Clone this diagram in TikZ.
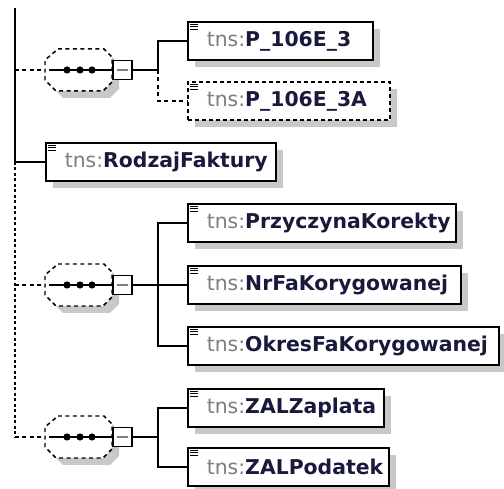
\documentclass[tikz,border=0pt]{standalone}
\usepackage{fontspec}
\setmainfont{DejaVu Sans}
\usetikzlibrary{positioning,shadows,calc}
\definecolor{tnsgray}{RGB}{125,125,132}
\definecolor{elname}{RGB}{25,25,60}
\definecolor{shadowgray}{RGB}{200,200,200}
\newcommand{\tns}[1]{\textcolor{tnsgray}{tns:}\textcolor{elname}{\bfseries #1}}

\tikzset{
  seq/.pic={
    % shadow and dashed outline
    \fill[shadowgray] (-13,-14) -- (33,-14) -- (41,-6) -- (41,19) -- (32,28) -- (-15,28) -- (-26,17) -- (-26,-3) -- cycle;
    \draw[optline, fill=white] (-20,-21) -- (26,-21) -- (34,-13) -- (34,12) -- (25,21) -- (-22,21) -- (-33,10) -- (-33,-10) -- cycle;
    \draw[line width=1pt] (-29,0) -- (36,0);
    \foreach \d in {-11,2,14} \fill (\d,0) circle (0.072cm);
    \node[minusbox] (-box) at (44.5,0) {};
    \draw[gray, line width=1pt] (39,0) -- (50,0);
    \coordinate (-in) at (-33,0);
  }
}

\begin{document}
\begin{tikzpicture}[x=0.02cm, y=-0.02cm, line width=0.85pt,
  elem/.style={draw, fill=white, line width=0.95pt, minimum height=0.76cm,
    inner xsep=0pt, anchor=west, font=\fontsize{11.6}{14}\selectfont,
    text width=#1, align=left,
    execute at begin node=\hspace*{0.38cm},
    drop shadow={shadow xshift=0.14cm, shadow yshift=-0.14cm, fill=shadowgray, opacity=1}},
  optelem/.style={elem=#1, dash pattern=on 0.08cm off 0.06cm},
  optline/.style={dash pattern=on 0.08cm off 0.07cm},
  trunkdot/.style={dash pattern=on 0.06cm off 0.05cm},
  minusbox/.style={draw, fill=white, line width=0.9pt, minimum size=0.38cm, inner sep=0pt}
]
\useasboundingbox (0,0) rectangle (504,489);

% compositors
\pic (s1) at (78,70) {seq};
\pic (s2) at (78,285) {seq};
\pic (s3) at (78,437) {seq};

% elements
\node[elem=3.7cm] (p106) at (187,41) {\tns{P\_106E\_3}};
\node[optelem=4.04cm] (p106a) at (187,101) {\tns{P\_106E\_3A}};
\node[elem=4.6cm] (rodzaj) at (45,162) {\tns{RodzajFaktury}};
\node[elem=5.36cm] (przyczyna) at (187,223) {\tns{PrzyczynaKorekty}};
\node[elem=5.46cm] (nrfa) at (187,285) {\tns{NrFaKorygowanej}};
\node[elem=6.22cm] (okres) at (187,346) {\tns{OkresFaKorygowanej}};
\node[elem=3.92cm] (zalzap) at (187,408) {\tns{ZALZaplata}};
\node[elem=4.02cm] (zalpod) at (187,467) {\tns{ZALPodatek}};

% element icons
\foreach \n in {p106,p106a,rodzaj,przyczyna,nrfa,okres,zalzap,zalpod}
  \foreach \k in {3,5.5,8}
    \draw[line width=0.6pt] ($(\n.north west)+(3,\k)$) -- ++(8,0);

% trunk
\coordinate (top) at (15,8);
\coordinate (j1) at (top |- s1-in);
\coordinate (j2) at (top |- rodzaj.west);
\coordinate (j3) at (top |- s2-in);
\coordinate (j4) at (top |- s3-in);
\draw[line width=1.1pt] (top) -- (j2);
\draw (j2) -- (rodzaj.west);
\draw[trunkdot, line width=1.1pt] (j2) -- (j4);
\draw[optline] (j1) -- (s1-in);
\draw[optline] (j3) -- (s2-in);
\draw[optline] (j4) -- (s3-in);

% forks
\coordinate (s1-fork) at ($(s1-box.east)+(25,0)$);
\coordinate (s2-fork) at ($(s2-box.east)+(25,0)$);
\coordinate (s3-fork) at ($(s3-box.east)+(25,0)$);
\draw (s1-box.east) -- (s1-fork) |- (p106.west);
\draw[optline] (s1-fork) |- (p106a.west);
\draw (s2-box.east) -- (nrfa.west);
\draw (przyczyna.west) -| (s2-fork) |- (okres.west);
\draw (s3-box.east) -- (s3-fork);
\draw (zalzap.west) -| (s3-fork) |- (zalpod.west);
\end{tikzpicture}
\end{document}
